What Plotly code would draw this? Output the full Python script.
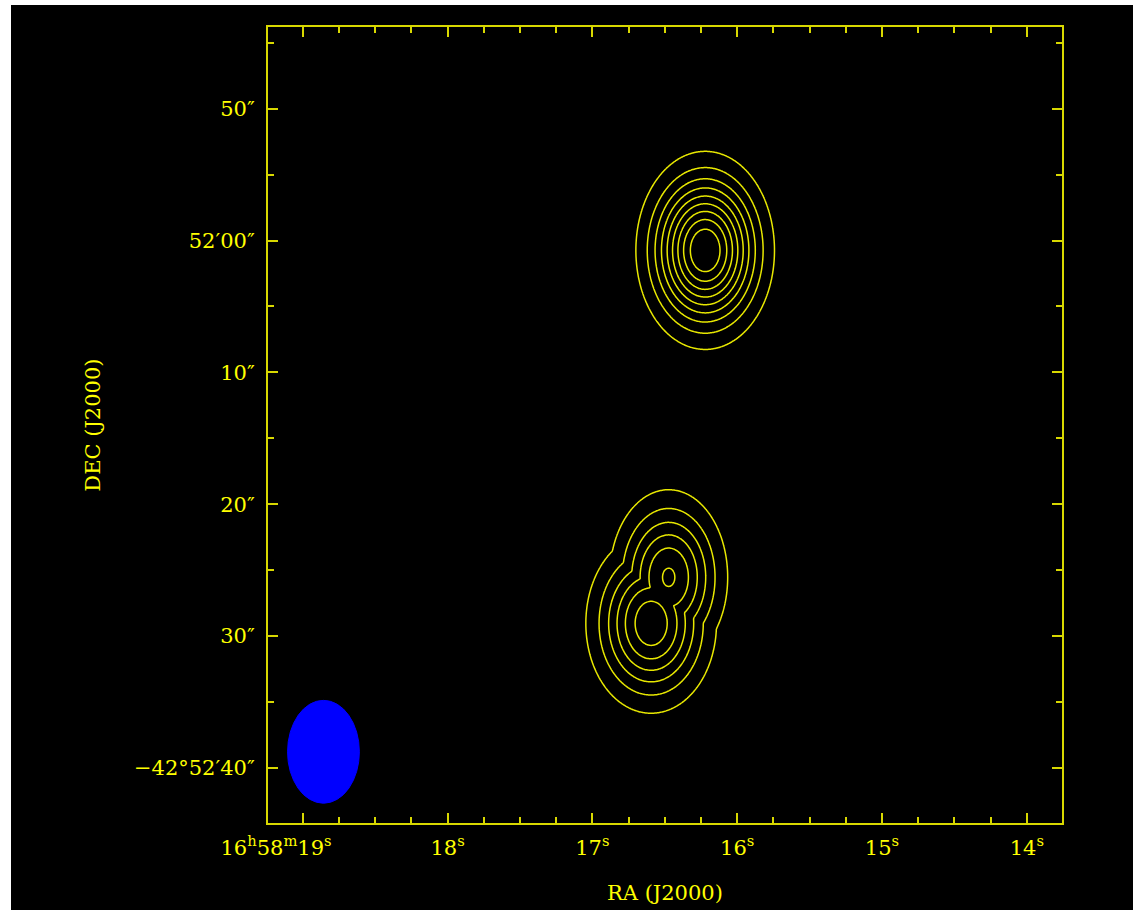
import numpy as np
import plotly.graph_objects as go

# ---- axis ticks (RA seconds of 16h58m, Dec arcsec south of -42d51m00s) ----
RA_TICK_SEC = [19, 18, 17, 16, 15, 14]
RA_TICK_TEXT = ["16<sup>h</sup>58<sup>m</sup>19<sup>s</sup>" + "&nbsp;" * 8, "18<sup>s</sup>", "17<sup>s</sup>",
                "16<sup>s</sup>", "15<sup>s</sup>", "14<sup>s</sup>"]
DEC_TICK_VAL = [50, 60, 70, 80, 90, 100]
DEC_TICK_TEXT = ["50″", "52′00″", "10″", "20″", "30″", "−42°52′40″"]
RA_RANGE = [19.240, 13.757]
DEC_RANGE = [104.17, 43.81]

# ---- emission components ----
SRC_RA = [16.221, 16.594, 16.473]
SRC_DEC = [60.75, 89.03, 85.54]
SRC_PEAK = [1.0, 0.673, 0.612]
SRC_SIG_RA = [0.223, 0.231, 0.214]
SRC_SIG_DEC = [3.50, 3.49, 3.49]

# contour levels (fraction of peak)
LEVELS = [0.1, 0.2, 0.3, 0.4, 0.5, 0.6, 0.7, 0.8, 0.9]

# ---- synthesized beam ----
BEAM_RA = 18.857
BEAM_DEC = 98.77
BEAM_HALF_RA = 0.248
BEAM_HALF_DEC = 3.90

YEL = "#ffff00"
LINE = "#d8d800"
FONT = "DejaVu Serif"
FS = 21

gx = np.linspace(15.3, 17.6, 360)
gy = np.linspace(44.5, 103.5, 460)
X, Y = np.meshgrid(gx, gy)
Z = np.zeros_like(X)
for ra, dec, pk, sx, sy in zip(SRC_RA, SRC_DEC, SRC_PEAK, SRC_SIG_RA, SRC_SIG_DEC):
    g = pk * np.exp(-0.5 * (((X - ra) / sx) ** 2 + ((Y - dec) / sy) ** 2))
    Z = np.maximum(Z, g)

fig = go.Figure()
fig.add_trace(go.Contour(
    x=gx, y=gy, z=Z,
    contours=dict(start=LEVELS[0], end=LEVELS[-1] + 1e-6, size=LEVELS[1] - LEVELS[0], coloring="none"),
    line=dict(color="#e8e800", width=1.5),
    showscale=False, hoverinfo="skip",
))

fig.add_shape(type="circle", xref="x", yref="y",
              x0=BEAM_RA - BEAM_HALF_RA, x1=BEAM_RA + BEAM_HALF_RA,
              y0=BEAM_DEC - BEAM_HALF_DEC, y1=BEAM_DEC + BEAM_HALF_DEC,
              fillcolor="#0000ff", line=dict(color="#0000ff", width=1), layer="above")

axis_common = dict(
    showline=True, linecolor=LINE, linewidth=2, mirror="allticks",
    ticks="inside", ticklen=10, tickwidth=2, tickcolor=LINE,
    showgrid=False, zeroline=False,
    tickfont=dict(family=FONT, size=FS, color=YEL),
)

# page offset: the reference page starts 11 px from the left, 5 px from the top
W, H = 1133 - 11, 910 - 5
fig.update_layout(
    width=W, height=H, autosize=False,
    margin=dict(l=256.5, r=70.5, t=21.7, b=87.3, pad=0),
    paper_bgcolor="black", plot_bgcolor="black",
    showlegend=False,
    xaxis=dict(range=RA_RANGE, tickmode="array", tickvals=RA_TICK_SEC, ticktext=RA_TICK_TEXT,
               minor=dict(ticks="inside", ticklen=6, tickwidth=2, tickcolor=LINE, dtick=0.25, tick0=0,
                          showgrid=False),
               ticklabelstandoff=5, **axis_common),
    yaxis=dict(range=DEC_RANGE, tickmode="array", tickvals=DEC_TICK_VAL, ticktext=DEC_TICK_TEXT,
               minor=dict(ticks="inside", ticklen=6, tickwidth=2, tickcolor=LINE, dtick=5, tick0=0,
                          showgrid=False),
               ticklabelstandoff=7, **axis_common),
    annotations=[
        dict(text="RA (J2000)", xref="paper", yref="paper", x=0.5, y=-0.0883,
             showarrow=False, font=dict(family=FONT, size=FS, color=YEL), xanchor="center", yanchor="middle"),
        dict(text="DEC (J2000)", xref="paper", yref="paper", x=-0.2208, y=0.5, textangle=-90,
             showarrow=False, font=dict(family=FONT, size=FS, color=YEL), xanchor="center", yanchor="middle"),
    ],
)

page_js = (
    "document.documentElement.style.background='black';"
    "document.documentElement.style.overflow='hidden';"
    "document.body.style.margin='0';"
    "document.body.style.background='black';"
    "document.body.style.overflow='hidden';"
    "document.body.style.borderLeft='11px solid white';"
    "document.body.style.borderTop='5px solid white';"
)
fig.write_html("out.html", post_script=page_js)
